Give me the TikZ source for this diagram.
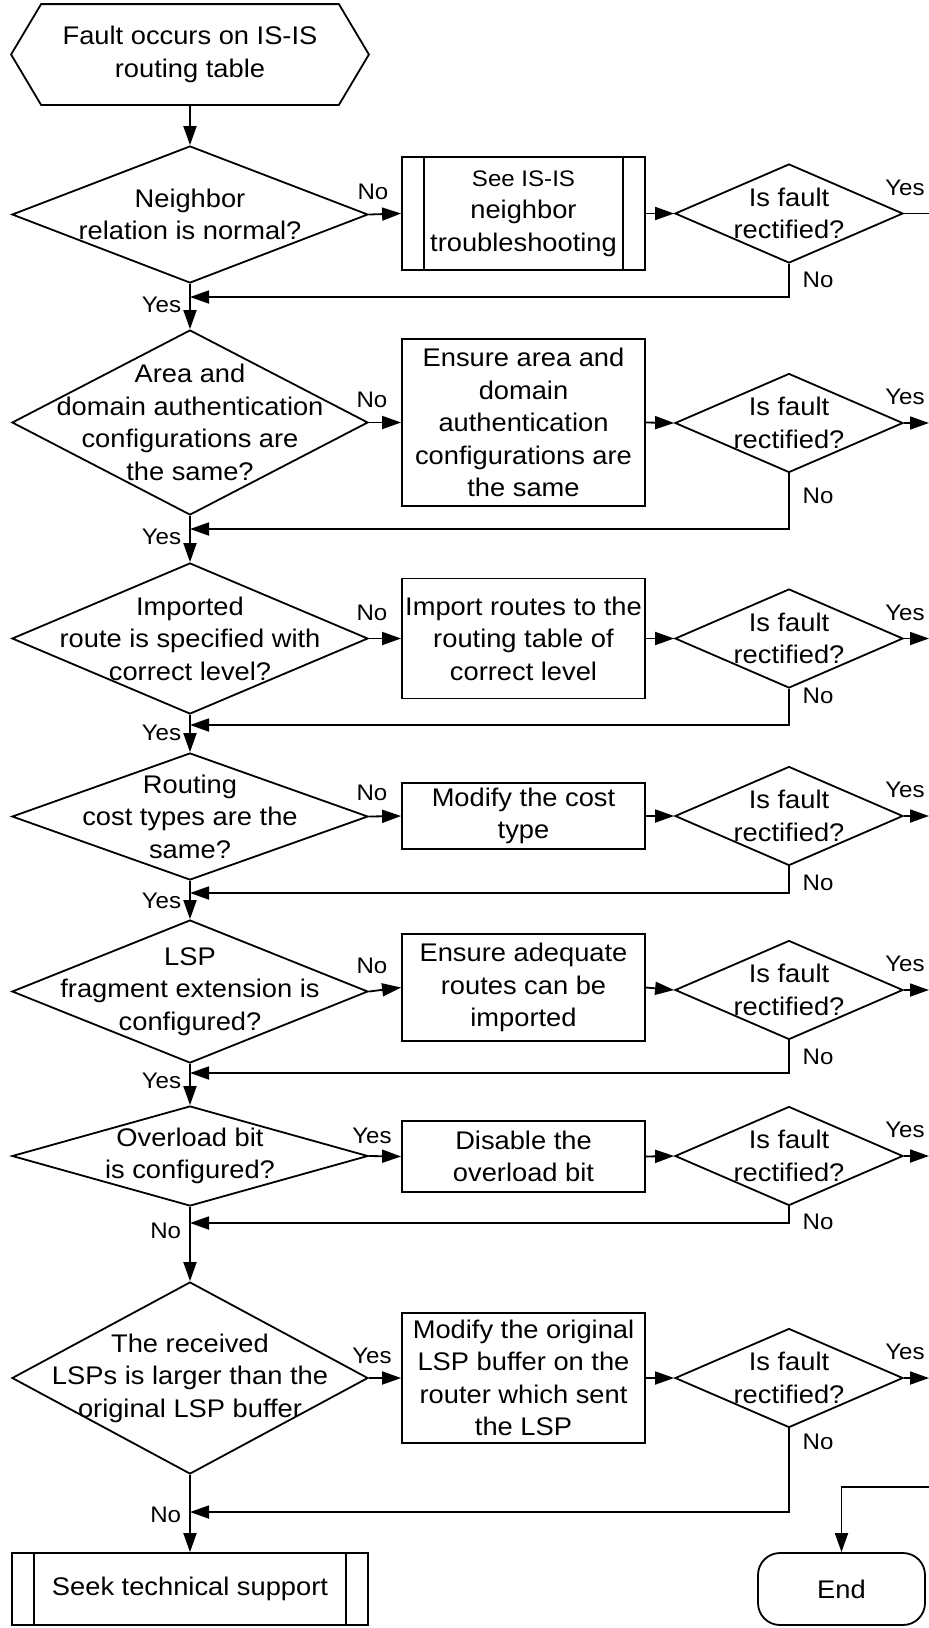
\documentclass[tikz,border=0pt]{standalone}
\usepackage{fontspec}
\setmainfont[FakeStretch=1.07]{Liberation Sans}
\usetikzlibrary{shapes.geometric,arrows.meta,calc}

\begin{document}
\begin{tikzpicture}[x=1pt,y=-1pt,
  line width=1.8pt,
  >={Triangle[length=19pt,width=13pt]},
  txt/.style={align=center,font=\fontsize{25.5}{32.5}\selectfont,inner sep=0pt},
  lbl/.style={font=\fontsize{22.5}{26}\selectfont,inner sep=0pt},
  decision/.style 2 args={draw,diamond,inner sep=0pt,minimum width=#1,minimum height=#2},
  mainq/.style={decision={356}{#1}},
  checkq/.style={decision={228}{99}},
  stepbox/.style={draw,rectangle,inner sep=0pt,minimum width=243,minimum height=#1,txt},
]
\useasboundingbox (0,0) rectangle (929,1628);

% start terminal (hexagon drawn around a plain node)
\node[txt,minimum width=356,minimum height=99] (start) at (190,54.5) {Fault occurs on IS-IS\\routing table};
\draw (start.west) -- ($(start.north west)+(30,0)$) -- ($(start.north east)+(-30,0)$)
  -- (start.east) -- ($(start.south east)+(-30,0)$) -- ($(start.south west)+(30,0)$) -- cycle;

% main column of checks
\node[mainq=137] (d1) at (190,214.5) {};
\node[txt] (t1) at (d1) {Neighbor\\relation is normal?};
\node[mainq=185] (d2) at (190,422.5) {};
\node[txt] (t2) at (d2) {Area and\\domain authentication\\configurations are\\the same?};
\node[mainq=151] (d3) at (190,638.5) {};
\node[txt] (t3) at (d3) {Imported\\route is specified with\\correct level?};
\node[mainq=127] (d4) at (190,816.5) {};
\node[txt] (t4) at (d4) {Routing\\cost types are the\\same?};
\node[mainq=143] (d5) at (190,991.5) {};
\node[txt] (t5) at (d5) {LSP\\fragment extension is\\configured?};
\node[mainq=100] (d6) at (190,1156) {};
\node[txt] (t6) at (d6) {Overload bit\\is configured?};
\node[mainq=192] (d7) at (190,1378) {};
\node[txt] (t7) at (d7) {The received\\LSPs is larger than the\\original LSP buffer};

% action boxes
\node[stepbox=113] (b1) at (523.5,213.5) {{\fontsize{22.5}{28}\selectfont See IS-IS}\\neighbor\\troubleshooting};
\draw ($(b1.north west)+(23,0)$) -- ($(b1.south west)+(23,0)$);
\draw ($(b1.north east)+(-23,0)$) -- ($(b1.south east)+(-23,0)$);
\node[stepbox=167] (b2) at (523.5,422.5) {Ensure area and\\domain\\authentication\\configurations are\\the same};
\node[stepbox=120] (b3) at (523.5,638.5) {Import routes to the\\routing table of\\correct level};
\node[stepbox=66] (b4) at (523.5,816) {Modify the cost\\type};
\node[stepbox=107] (b5) at (523.5,987.5) {Ensure adequate\\routes can be\\imported};
\node[stepbox=71] (b6) at (523.5,1156.5) {Disable the\\overload bit};
\node[stepbox=130] (b7) at (523.5,1378) {Modify the original\\LSP buffer on the\\router which sent\\the LSP};

% "is fault rectified" checks
\foreach \i/\y in {1/213.5,2/423,3/638.5,4/816,5/990,6/1156,7/1378}{
  \node[checkq] (r\i) at (789,\y) {};
  \node[txt] (rt\i) at (r\i) {Is fault\\rectified?};
  \coordinate (y\i) at (929,\y);
}

% merge points on the main column
\foreach \i/\y in {1/297,2/529,3/725,4/893,5/1073,6/1223,7/1512}{
  \coordinate (m\i) at (190,\y);
}

% end terminals
\node[txt,draw,rounded corners=22pt,minimum width=167,minimum height=72] (end) at (841.5,1589) {End};
\node[txt,draw,minimum width=356,minimum height=72] (seek) at (190,1589) {Seek technical support};
\draw ($(seek.north west)+(23,0)$) -- ($(seek.south west)+(23,0)$);
\draw ($(seek.north east)+(-23,0)$) -- ($(seek.south east)+(-23,0)$);
\coordinate (endin) at (929,1487);

% connectors
\draw[->] (start.south) -- (d1.north);
\draw[->] (d1.south) -- (d2.north);
\draw[->] (d2.south) -- (d3.north);
\draw[->] (d3.south) -- (d4.north);
\draw[->] (d4.south) -- (d5.north);
\draw[->] (d5.south) -- (d6.north);
\draw[->] (d6.south) -- (d7.north);
\draw[->] (d7.south) -- (seek.north);
\foreach \i in {1,...,7}{
  \draw[->] (d\i.east) -- (b\i.west);
  \draw[->] (b\i.east) -- (r\i.west);
  \draw[->] (r\i.south) |- (m\i);
}
\draw (r1.east) -- (y1);
\foreach \i in {2,...,7}{ \draw[->] (r\i.east) -- (y\i); }
\draw[->] (endin) -| (end.north);

% branch labels
\node[lbl] (n1) at (373,192) {No};
\node[lbl] (n2) at (372,400) {No};
\node[lbl] (n3) at (372,613) {No};
\node[lbl] (n4) at (372,793) {No};
\node[lbl] (n5) at (372,966) {No};
\node[lbl] (n6) at (372,1136) {Yes};
\node[lbl] (n7) at (372,1356) {Yes};
\foreach \i/\y in {1/213.5,2/423,3/638.5,4/816,5/990,6/1156,7/1378}{
  \node[lbl] (ry\i) at (905,\y-26) {Yes};
}
\node[lbl] (rn1) at (818,280) {No};
\node[lbl] (rn2) at (818,496) {No};
\node[lbl] (rn3) at (818,696) {No};
\node[lbl] (rn4) at (818,883) {No};
\node[lbl] (rn5) at (818,1057) {No};
\node[lbl] (rn6) at (818,1222) {No};
\node[lbl] (rn7) at (818,1442) {No};
\node[lbl,anchor=east] (my1) at (182,305) {Yes};
\node[lbl,anchor=east] (my2) at (182,537) {Yes};
\node[lbl,anchor=east] (my3) at (182,733) {Yes};
\node[lbl,anchor=east] (my4) at (182,901) {Yes};
\node[lbl,anchor=east] (my5) at (182,1081) {Yes};
\node[lbl,anchor=east] (my6) at (182,1231) {No};
\node[lbl,anchor=east] (my7) at (182,1515) {No};
\end{tikzpicture}
\end{document}
